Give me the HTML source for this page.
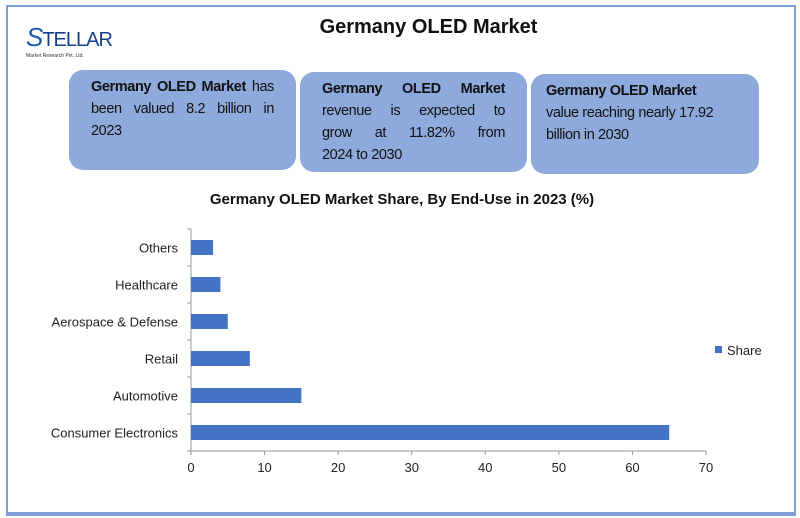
<!DOCTYPE html>
<html><head><meta charset="utf-8"><style>
body{margin:0;width:800px;height:518px;background:#fff;position:relative;overflow:hidden;font-family:"Liberation Sans",Calibri,sans-serif;}
.frame{position:absolute;left:6px;top:5px;width:786px;height:505px;border:2px solid #7f9fd6;border-bottom-width:4px;}
.box{position:absolute;background:#8eaadc;border-radius:14px;font-size:14.5px;line-height:22px;color:#111;padding:6px 22px;box-sizing:border-box;letter-spacing:-0.4px;}
.j{text-align:justify;text-align-last:justify;white-space:nowrap;}
.l{white-space:nowrap;}
</style></head><body>
<div class="frame"></div>
<div style="position:absolute;left:24px;top:18px;width:100px;height:45px;">
 <div style="position:absolute;left:2px;top:4px;font-size:26px;color:#1a5fb4;font-style:italic;letter-spacing:-1px;">S<span style="font-size:20px;color:#173f8a;font-style:normal">TELLAR</span></div>
 <div style="position:absolute;left:2px;top:35px;font-size:5px;color:#333;">Market Research Pvt. Ltd.</div>
</div>
<div style="position:absolute;left:0;width:857px;top:16px;text-align:center;font-size:20px;font-weight:bold;color:#111;">Germany OLED Market</div>
<div class="box" style="left:69px;top:70px;width:227px;height:100px;"><div class="j"><b>Germany OLED Market</b> has</div><div class="j">been valued 8.2 billion in</div><div class="l">2023</div></div>
<div class="box" style="left:300px;top:72px;width:227px;height:100px;"><div class="j"><b>Germany OLED Market</b></div><div class="j">revenue is expected to</div><div class="j">grow at 11.82% from</div><div class="l">2024 to 2030</div></div>
<div class="box" style="left:531px;top:74px;width:228px;height:100px;padding-left:15px;"><div class="l"><b>Germany OLED Market</b></div><div class="l">value reaching nearly 17.92</div><div class="l">billion in 2030</div></div>
<svg id="chart" width="800" height="518" style="position:absolute;left:0;top:0"></svg>
<script>
const categories=["Consumer Electronics","Automotive","Retail","Aerospace & Defense","Healthcare","Others"];
const shareValues=[65,15,8,5,4,3];
const xTicks=[0,10,20,30,40,50,60,70];
const svg=document.getElementById('chart');
const NS='http://www.w3.org/2000/svg';
const x0=191,x1=706,yTop=229,yBot=451,xMax=70;
const xs=v=>x0+(v/xMax)*(x1-x0);
const band=(yBot-yTop)/categories.length;
const yc=i=>yBot-band*(i+0.5);
function mk(t,a){const e=document.createElementNS(NS,t);for(const k in a)e.setAttribute(k,a[k]);svg.appendChild(e);return e;}
let t=mk('text',{x:402,y:204,'text-anchor':'middle','font-size':15,'font-weight':'bold',fill:'#111','font-family':'Liberation Sans, sans-serif'});
t.textContent='Germany OLED Market Share, By End-Use in 2023 (%)';


let ax=mk('line',{x1:x0,y1:yBot,x2:x1,y2:yBot,stroke:'#999'});


let ay=mk('line',{x1:x0,y1:yTop,x2:x0,y2:yBot,stroke:'#999'});


for(let i=0;i<=categories.length;i++){mk('line',{x1:x0-4,y1:yBot-band*i,x2:x0,y2:yBot-band*i,stroke:'#999'});}
xTicks.forEach(v=>{
 mk('line',{x1:xs(v),y1:yBot,x2:xs(v),y2:yBot+4,stroke:'#999'});
 const l=mk('text',{x:xs(v),y:yBot+21,'text-anchor':'middle','font-size':13,fill:'#222','font-family':'Liberation Sans, sans-serif'});
 l.textContent=v;
 
 
});
categories.forEach((c,i)=>{
 const b=mk('rect',{x:x0,y:yc(i)-7.5,width:xs(shareValues[i])-x0,height:15,fill:'#4472c4'});
 
 
 const l=mk('text',{x:x0-13,y:yc(i)+5,'text-anchor':'end','font-size':13,fill:'#222','font-family':'Liberation Sans, sans-serif'});
 l.textContent=c;
 
 
});
const ls=mk('rect',{x:715,y:346,width:7,height:7,fill:'#4472c4'});


const lt=mk('text',{x:727,y:355,'font-size':13,fill:'#222','font-family':'Liberation Sans, sans-serif'});
lt.textContent='Share';


</script>
</body></html>
